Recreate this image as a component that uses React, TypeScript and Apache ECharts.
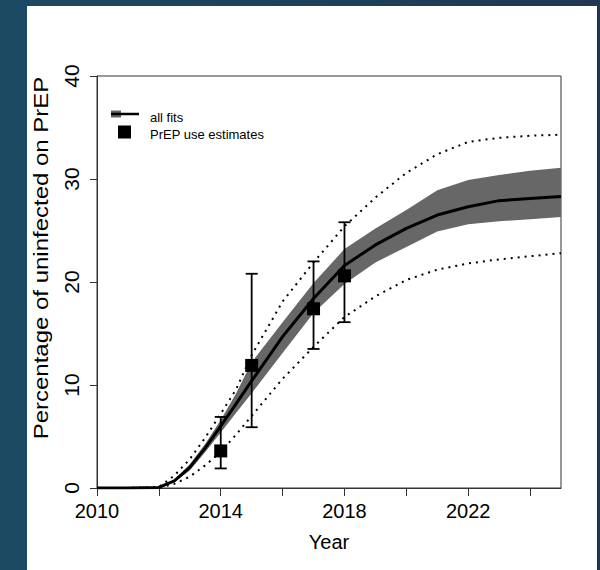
import React, { useEffect, useRef } from 'react';
import * as echarts from 'echarts';

const years = [2010, 2011, 2012, 2012.5, 2013, 2013.5, 2014, 2014.5, 2015, 2016, 2017, 2018, 2019, 2020, 2021, 2022, 2023, 2024, 2025];
const fitMedian = [0, 0, 0.05, 0.7, 2.0, 3.9, 6.0, 8.2, 10.4, 14.7, 18.4, 21.6, 23.6, 25.2, 26.5, 27.3, 27.9, 28.1, 28.3];
const fitBandLow = [0, 0, 0.03, 0.55, 1.7, 3.5, 5.4, 7.3, 9.2, 13.1, 17.0, 19.8, 21.9, 23.4, 24.9, 25.6, 25.9, 26.1, 26.3];
const fitBandHigh = [0, 0, 0.08, 0.8, 2.3, 4.3, 6.6, 9.2, 12.2, 16.1, 19.9, 23.2, 25.2, 27.0, 28.9, 29.9, 30.4, 30.8, 31.1];
const outerHigh = [0, 0, 0.1, 1.2, 2.8, 4.9, 7.2, 9.6, 12.9, 18.1, 21.9, 25.4, 28.2, 30.6, 32.4, 33.6, 34.0, 34.2, 34.3];
const outerLow = [0, 0, 0, 0.4, 1.1, 2.2, 3.5, 5.2, 7.0, 10.6, 13.7, 16.6, 18.6, 20.2, 21.2, 21.8, 22.2, 22.5, 22.8];

const obsYears = [2014, 2015, 2017, 2018];
const obsValues = [3.6, 11.9, 17.4, 20.6];
const obsLow = [1.9, 5.9, 13.5, 16.1];
const obsHigh = [6.9, 20.8, 22.0, 25.8];

const xTickValues = [2010, 2012, 2014, 2016, 2018, 2020, 2022, 2024];
const xLabelValues = [2010, 2014, 2018, 2022];
const yTickValues = [0, 10, 20, 30, 40];

const legendLabels = ['all fits', 'PrEP use estimates'];
const xTitle = 'Year';
const yTitle = 'Percentage of uninfected on PrEP';

const FONT = '"Liberation Sans", Arial, Helvetica, sans-serif';

export default function App() {
  const ref = useRef<HTMLDivElement>(null);
  useEffect(() => {
    if (!ref.current) return;
    const chart = echarts.init(ref.current, undefined, { renderer: 'svg' });
    const pair = (arr: number[]) => years.map((y, i) => [y, arr[i]]);
    const option: any = {
      animation: false,
      backgroundColor: '#ffffff',
      grid: {
        left: 97, right: 39, top: 76, bottom: 82,
        show: true, borderColor: '#333', borderWidth: 1,
      },
      xAxis: {
        type: 'value', min: 2010, max: 2025, interval: 2,
        axisLine: { show: true, onZero: false, lineStyle: { color: '#333', width: 1 } },
        axisTick: { show: true, length: 8, customValues: xTickValues, lineStyle: { color: '#333', width: 1 } },
        axisLabel: {
          customValues: xLabelValues, formatter: (v: number) => String(v),
          fontSize: 20, color: '#000', margin: 13, fontFamily: FONT,
        },
        splitLine: { show: false },
      },
      yAxis: {
        type: 'value', min: 0, max: 40, interval: 10,
        axisLine: { show: true, lineStyle: { color: '#333', width: 1 } },
        axisTick: { show: true, length: 7, customValues: yTickValues, lineStyle: { color: '#333', width: 1 } },
        axisLabel: {
          customValues: yTickValues, formatter: (v: number) => String(v),
          rotate: 90, fontSize: 21, color: '#000', margin: 15, fontFamily: FONT,
        },
        splitLine: { show: false },
      },
      series: [
        {
          type: 'custom',
          z: 1,
          clip: true,
          data: years.map((y, i) => [y, fitBandLow[i], fitBandHigh[i]]),
          encode: { x: 0, y: [1, 2] },
          renderItem: (params: any, api: any) => {
            if (params.dataIndex !== 0) return null;
            const pts: number[][] = [];
            for (let i = 0; i < years.length; i++) pts.push(api.coord([years[i], fitBandHigh[i]]));
            for (let i = years.length - 1; i >= 0; i--) pts.push(api.coord([years[i], fitBandLow[i]]));
            return { type: 'polygon', shape: { points: pts }, style: { fill: '#676767', stroke: 'none' } };
          },
        },
        {
          type: 'line', z: 3, data: pair(outerHigh), showSymbol: false, symbol: 'none',
          lineStyle: { color: '#000', width: 2, type: [2, 5], cap: 'butt' },
        },
        {
          type: 'line', z: 3, data: pair(outerLow), showSymbol: false, symbol: 'none',
          lineStyle: { color: '#000', width: 2, type: [2, 5], cap: 'butt' },
        },
        {
          type: 'line', z: 4, data: pair(fitMedian), showSymbol: false, symbol: 'none',
          lineStyle: { color: '#000', width: 3 },
        },
        {
          type: 'custom',
          z: 5,
          data: obsYears.map((y, i) => [y, obsLow[i], obsHigh[i]]),
          encode: { x: 0, y: [1, 2] },
          renderItem: (params: any, api: any) => {
            const x = api.value(0);
            const p1 = api.coord([x, api.value(1)]);
            const p2 = api.coord([x, api.value(2)]);
            const hw = 6;
            const st = { stroke: '#000', lineWidth: 1.8 };
            return {
              type: 'group',
              children: [
                { type: 'line', shape: { x1: p1[0], y1: p1[1], x2: p2[0], y2: p2[1] }, style: st },
                { type: 'line', shape: { x1: p1[0] - hw, y1: p1[1], x2: p1[0] + hw, y2: p1[1] }, style: st },
                { type: 'line', shape: { x1: p2[0] - hw, y1: p2[1], x2: p2[0] + hw, y2: p2[1] }, style: st },
              ],
            };
          },
        },
        {
          type: 'scatter', z: 6, symbol: 'rect', symbolSize: 13,
          itemStyle: { color: '#000', opacity: 1 },
          data: obsYears.map((y, i) => [y, obsValues[i]]),
        },
      ],
      graphic: [
        { type: 'rect', z: 100, shape: { x: 0, y: 0, width: 27, height: 570 }, style: { fill: '#1c4a62' } },
        {
          type: 'rect', z: 100, shape: { x: 0, y: 0, width: 600, height: 6 },
          style: {
            fill: new echarts.graphic.LinearGradient(0, 0, 1, 0, [
              { offset: 0, color: '#1c4a62' }, { offset: 1, color: '#1f3752' },
            ]),
          },
        },
        { type: 'rect', z: 100, shape: { x: 597, y: 0, width: 3, height: 570 }, style: { fill: '#1f3752' } },
        // legend
        { type: 'rect', z: 100, shape: { x: 111, y: 110.5, width: 10, height: 7 }, style: { fill: '#666' } },
        { type: 'line', z: 101, shape: { x1: 111, y1: 114, x2: 139, y2: 114 }, style: { stroke: '#000', lineWidth: 2.5 } },
        { type: 'text', z: 100, x: 150, y: 117, style: { text: legendLabels[0], font: `13px ${FONT}`, fill: '#000', textAlign: 'left', textVerticalAlign: 'middle' } },
        { type: 'rect', z: 100, shape: { x: 118, y: 125.5, width: 13, height: 13 }, style: { fill: '#000' } },
        { type: 'text', z: 100, x: 150, y: 134, style: { text: legendLabels[1], font: `13px ${FONT}`, fill: '#000', textAlign: 'left', textVerticalAlign: 'middle' } },
        // axis titles
        { type: 'text', z: 100, x: 329, y: 542, style: { text: xTitle, font: `20px ${FONT}`, fill: '#000', textAlign: 'center', textVerticalAlign: 'middle' } },
        {
          type: 'text', z: 100, x: 41, y: 258, rotation: Math.PI / 2, scaleX: 1.2,
          style: { text: yTitle, font: `20px ${FONT}`, fill: '#000', textAlign: 'center', textVerticalAlign: 'middle' },
        },
      ],
    };
    chart.setOption(option);
    return () => chart.dispose();
  }, []);
  return <div ref={ref} style={{ position: 'fixed', left: 0, top: 0, width: 600, height: 570 }} />;
}
